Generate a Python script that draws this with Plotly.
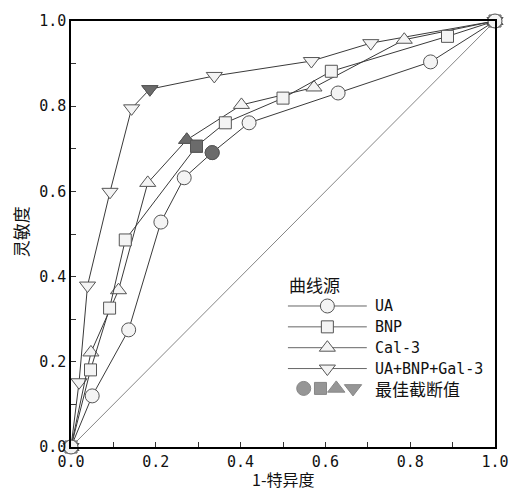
import plotly.graph_objects as go

# ---- data ----
ua_x = [0, 0.050, 0.136, 0.212, 0.267, 0.333, 0.420, 0.630, 0.848, 1.0]
ua_y = [0, 0.120, 0.275, 0.528, 0.632, 0.691, 0.761, 0.831, 0.904, 1.0]
ua_cut = 5

bnp_x = [0, 0.046, 0.091, 0.128, 0.296, 0.364, 0.500, 0.614, 0.888, 1.0]
bnp_y = [0, 0.181, 0.326, 0.486, 0.706, 0.761, 0.819, 0.882, 0.964, 1.0]
bnp_cut = 4

cal_x = [0, 0.047, 0.112, 0.181, 0.273, 0.402, 0.573, 0.786, 1.0]
cal_y = [0, 0.222, 0.368, 0.620, 0.721, 0.803, 0.844, 0.956, 1.0]
cal_cut = 4

combo_x = [0, 0.019, 0.039, 0.092, 0.143, 0.186, 0.338, 0.567, 0.707, 1.0]
combo_y = [0, 0.152, 0.379, 0.599, 0.795, 0.840, 0.871, 0.906, 0.948, 1.0]
combo_cut = 5

ref_x = [0, 1]
ref_y = [0, 1]

series_names = ["UA", "BNP", "Cal-3", "UA+BNP+Gal-3"]
legend_title = "曲线源"
cutoff_label = "最佳截断值"
x_title = "1-特异度"
y_title = "灵敏度"
tick_vals = [0.0, 0.2, 0.4, 0.6, 0.8, 1.0]

# ---- styles ----
LINE = "#3a3a3a"
MFILL = "#f4f4f4"
MEDGE = "#555555"
CUTFILL = "#6b6b6b"
symbols = ["circle", "square", "triangle-up", "triangle-down"]
sizes = [14, 12, 14, 14]
MONO = "DejaVu Sans Mono, Noto Sans CJK SC"
CJK = "Noto Sans CJK SC"

W, H = 521, 491
ML, MR, MT, MB = 71, 20, 18, 44
PW = W - ML - MR
PH = H - MT - MB

fig = go.Figure()

fig.add_trace(go.Scatter(x=ref_x, y=ref_y, mode="lines",
                         line=dict(color="#777777", width=0.9),
                         showlegend=False, hoverinfo="skip"))

data = [(ua_x, ua_y, ua_cut), (bnp_x, bnp_y, bnp_cut),
        (cal_x, cal_y, cal_cut), (combo_x, combo_y, combo_cut)]

for i in [3, 2, 1, 0]:
    xs, ys, c = data[i]
    fig.add_trace(go.Scatter(
        x=xs, y=ys, mode="lines+markers", name=series_names[i],
        line=dict(color=LINE, width=1),
        marker=dict(symbol=symbols[i], size=sizes[i], color=MFILL,
                    line=dict(color=MEDGE, width=1)),
        cliponaxis=False, showlegend=False))

for i in [3, 2, 1, 0]:
    xs, ys, c = data[i]
    fig.add_trace(go.Scatter(
        x=[xs[c]], y=[ys[c]], mode="markers",
        marker=dict(symbol=symbols[i], size=sizes[i], color=CUTFILL,
                    line=dict(color="#555555", width=1)),
        cliponaxis=False, showlegend=False))

# ---- manual legend on a hidden overlaying axis (coordinates in page pixels) ----
leg_rows = [305, 326, 347, 368]
for i in range(4):
    fig.add_trace(go.Scatter(
        x=[291, 331, 371], y=[leg_rows[i]] * 3, xaxis="x2", yaxis="y2",
        mode="lines", line=dict(color="#666666", width=1),
        showlegend=False, hoverinfo="skip"))
    fig.add_trace(go.Scatter(
        x=[331], y=[leg_rows[i]], xaxis="x2", yaxis="y2", mode="markers",
        marker=dict(symbol=symbols[i], size=sizes[i], color=MFILL,
                    line=dict(color=MEDGE, width=1)),
        showlegend=False, hoverinfo="skip", cliponaxis=False))
fig.add_trace(go.Scatter(
    x=[307, 324, 340, 357], y=[388] * 4, xaxis="x2", yaxis="y2",
    mode="markers",
    marker=dict(symbol=symbols, size=[14, 12, 15, 15], color=CUTFILL,
                line=dict(color="#555555", width=1)),
    showlegend=False, hoverinfo="skip", cliponaxis=False))

annotations = [
    dict(x=290, y=283, xref="x2", yref="y2", text=legend_title,
         showarrow=False, xanchor="left", yanchor="middle",
         font=dict(family=CJK, size=17, color="#111")),
]
for i in range(4):
    annotations.append(dict(x=377, y=leg_rows[i], xref="x2", yref="y2",
                            text=series_names[i], showarrow=False,
                            xanchor="left", yanchor="middle",
                            font=dict(family=MONO, size=15, color="#111")))
annotations.append(dict(x=377, y=388, xref="x2", yref="y2", text=cutoff_label,
                        showarrow=False, xanchor="left", yanchor="middle",
                        font=dict(family=CJK, size=17, color="#111")))
annotations.append(dict(x=(286 - ML) / PW, y=-(479 - (H - MB)) / PH,
                        xref="paper", yref="paper", text=x_title,
                        showarrow=False, xanchor="center", yanchor="middle",
                        font=dict(family=CJK, size=16, color="#111")))
annotations.append(dict(x=(20 - ML) / PW, y=(H - MB - 230) / PH,
                        xref="paper", yref="paper", text=y_title,
                        showarrow=False, xanchor="center", yanchor="middle",
                        textangle=-90,
                        font=dict(family=CJK, size=17, color="#111")))

axis_common = dict(range=[0, 1], showgrid=False, zeroline=False,
                   showline=True, linecolor="#000", linewidth=1.5,
                   mirror=True, ticks="inside", ticklen=5, tickwidth=1,
                   tickcolor="#333", tickvals=tick_vals, tickformat=".1f",
                   tickfont=dict(family=MONO, size=15, color="#111"),
                   minor=dict(dtick=0.1, ticks="inside", ticklen=5,
                              tickcolor="#333", tickwidth=1),
                   fixedrange=True)

fig.update_layout(
    width=W, height=H,
    margin=dict(l=ML, r=MR, t=MT, b=MB),
    paper_bgcolor="white", plot_bgcolor="white",
    xaxis=dict(**axis_common),
    yaxis=dict(**axis_common),
    xaxis2=dict(domain=[0, 1], range=[ML, W - MR], anchor="y2",
                overlaying="x", visible=False, fixedrange=True),
    yaxis2=dict(domain=[0, 1], range=[H - MB, MT], anchor="x2",
                overlaying="y", visible=False, fixedrange=True),
    annotations=annotations,
    showlegend=False,
)

fig.write_html(
    "out.html",
    config={"displayModeBar": False},
    post_script="document.body.style.margin='0';document.body.style.overflow='hidden';",
)
